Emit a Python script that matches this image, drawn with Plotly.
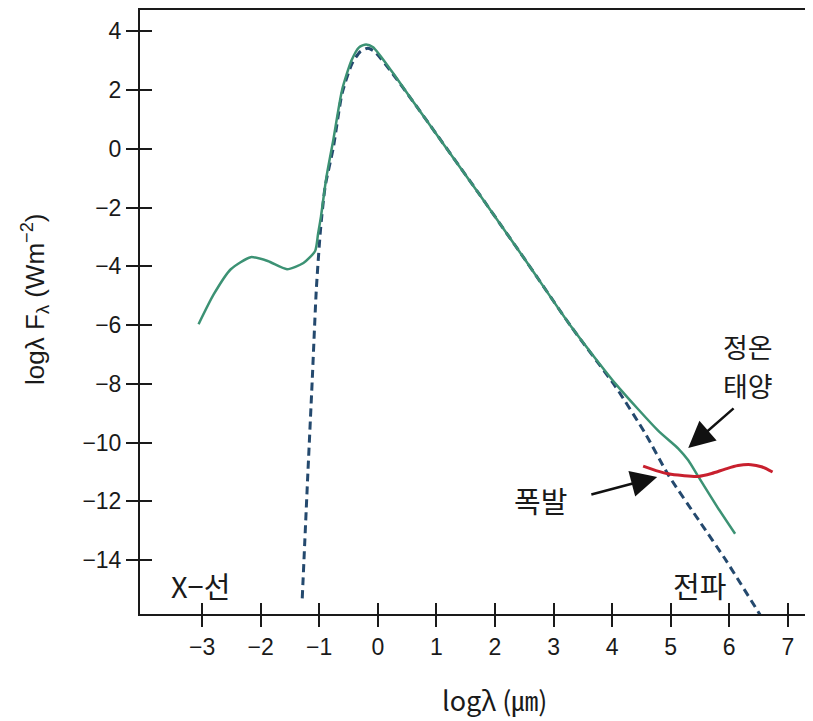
import plotly.graph_objects as go

# Quiet Sun spectrum (green)
quiet_x = [-3.06, -2.8, -2.51, -2.17, -1.88, -1.55, -1.27, -1.07, -1.02, -0.97, -0.88, -0.76, -0.61, -0.45, -0.32,
           -0.2, -0.08, 0.25, 0.59, 1.73, 2.53, 3.3, 4.06, 4.79, 5.13, 5.3, 5.47, 5.8, 6.1]
quiet_y = [-5.97, -4.95, -4.1, -3.69, -3.82, -4.1, -3.89, -3.48, -2.9, -2.3, -1.0, 0.3, 2.0, 3.0, 3.45,
           3.55, 3.45, 2.6, 1.64, -1.54, -3.82, -6.05, -8.0, -9.6, -10.2, -10.6, -11.15, -12.2, -13.1]

# Blackbody (dashed)
bb_x = [-1.29, -1.2, -1.12, -1.05, -0.98, -0.9, -0.76, -0.61, -0.44, -0.3, -0.17, -0.05, 0.25, 0.59, 1.0,
        1.73, 2.53, 3.3, 4.06, 4.57, 4.96, 5.5, 5.93, 6.54, 6.7]
bb_y = [-15.3, -11.3, -7.9, -4.8, -2.8, -1.3, 0.03, 1.88, 2.9, 3.3, 3.42, 3.3, 2.56, 1.64, 0.5,
        -1.54, -3.82, -6.05, -8.1, -9.7, -11.1, -12.7, -13.96, -15.9, -16.4]

# Flare (red)
flare_x = [4.53, 4.75, 4.96, 5.2, 5.47, 5.7, 5.93, 6.15, 6.37, 6.55, 6.74]
flare_y = [-10.8, -10.95, -11.06, -11.12, -11.15, -11.05, -10.9, -10.78, -10.75, -10.82, -11.0]

x_ticks = [-3, -2, -1, 0, 1, 2, 3, 4, 5, 6, 7]
y_ticks = [4, 2, 0, -2, -4, -6, -8, -10, -12, -14]

X_RANGE = [-4.06, 7.43]
Y_RANGE = [-15.83, 4.72]

FONT = "Liberation Sans, Arial, Noto Sans CJK KR"
KFONT = "Noto Sans CJK KR, Liberation Sans"
INK = "#1a1a1a"

fig = go.Figure()
fig.add_trace(go.Scatter(x=bb_x, y=bb_y, mode="lines",
                         line=dict(color="#24496e", width=3, dash="8px,5px", shape="spline", smoothing=0.6),
                         showlegend=False))
fig.add_trace(go.Scatter(x=quiet_x, y=quiet_y, mode="lines",
                         line=dict(color="#3c9274", width=2.5, shape="spline", smoothing=0.6),
                         showlegend=False))
fig.add_trace(go.Scatter(x=flare_x, y=flare_y, mode="lines",
                         line=dict(color="#c8202e", width=3, shape="spline", smoothing=0.8),
                         showlegend=False))
# invisible trace on overlay axes so they render
fig.add_trace(go.Scatter(x=[None], y=[None], xaxis="x2", yaxis="y2", showlegend=False))

axis_common = dict(showgrid=False, zeroline=False)
fig.update_layout(
    width=805, height=713,
    margin=dict(l=132, r=0, t=2, b=107, autoexpand=False),
    paper_bgcolor="white", plot_bgcolor="white",
    font=dict(family=FONT, size=23, color=INK),
    xaxis=dict(range=X_RANGE, tickvals=x_ticks, ticktext=[str(v).replace("-", "−") for v in x_ticks],
               ticks="outside", ticklen=11, tickwidth=2, tickcolor=INK,
               showline=True, linecolor=INK, linewidth=2, mirror=True,
               tickfont=dict(size=23), **axis_common),
    yaxis=dict(range=Y_RANGE, tickvals=y_ticks, ticktext=[str(v).replace("-", "−") for v in y_ticks],
               ticks="outside", ticklen=12, tickwidth=2, tickcolor=INK,
               showline=True, linecolor=INK, linewidth=2, mirror=False,
               tickfont=dict(size=23), **axis_common),
    xaxis2=dict(range=X_RANGE, overlaying="x", tickvals=x_ticks, showticklabels=False,
                ticks="inside", ticklen=11, tickwidth=2, tickcolor=INK, showline=False, **axis_common),
    yaxis2=dict(range=Y_RANGE, overlaying="y", tickvals=y_ticks, showticklabels=False,
                ticks="inside", ticklen=12, tickwidth=2, tickcolor=INK, showline=False, **axis_common),
)

annotations = [
    dict(x=-0.156, y=0.52, xref="paper", yref="paper", xanchor="center", yanchor="middle",
         text="logλ F<sub>λ</sub> (Wm<sup>−2</sup>)",
         textangle=-90, showarrow=False, font=dict(size=26, family=FONT)),
    dict(x=0.527, y=-0.142, xref="paper", yref="paper", xanchor="center", yanchor="middle",
         text="logλ (㎛)", showarrow=False, font=dict(size=27, family=KFONT)),
    dict(x=-3.03, y=-14.84, xref="x", yref="y", text="X−선", showarrow=False, font=dict(size=29, family=KFONT)),
    dict(x=5.5, y=-14.84, xref="x", yref="y", text="전파", showarrow=False, font=dict(size=29, family=KFONT)),
    dict(x=6.32, y=-6.72, xref="x", yref="y", text="정온", showarrow=False, yanchor="middle",
         font=dict(size=27, family=KFONT)),
    dict(x=6.32, y=-8.07, xref="x", yref="y", text="태양", showarrow=False, yanchor="middle",
         font=dict(size=27, family=KFONT)),
    dict(x=2.77, y=-11.95, xref="x", yref="y", text="폭발", showarrow=False, font=dict(size=29, family=KFONT)),
    dict(x=5.30, y=-10.18, ax=6.10, ay=-8.79, xref="x", yref="y", axref="x", ayref="y", text="",
         showarrow=True, arrowhead=2, arrowsize=2.1, arrowwidth=2.5, arrowcolor="#111", standoff=0),
    dict(x=4.77, y=-11.17, ax=3.62, ay=-11.78, xref="x", yref="y", axref="x", ayref="y", text="",
         showarrow=True, arrowhead=2, arrowsize=2.1, arrowwidth=2.5, arrowcolor="#111", standoff=0),
]
fig.update_layout(annotations=annotations)

fig.write_html("out.html")
